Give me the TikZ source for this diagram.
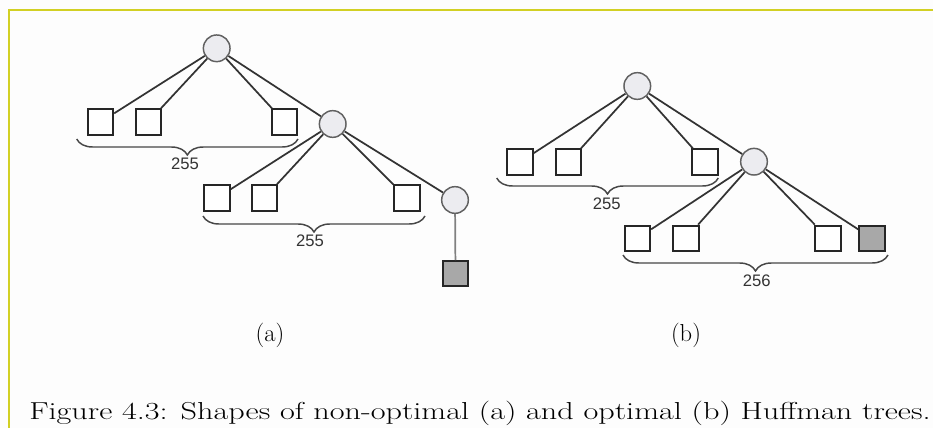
\documentclass[tikz,border=0pt]{standalone}
\usepackage{fontspec}
\newfontfamily\numfont{Liberation Sans}
\usetikzlibrary{decorations.pathreplacing}
\definecolor{frameyellow}{RGB}{210,208,36}
\definecolor{innerfill}{RGB}{236,236,240}
\definecolor{leafgrey}{RGB}{168,168,168}
\definecolor{pagebg}{RGB}{253,253,253}
\tikzset{
  inner/.style={circle, draw=black!62, fill=innerfill, line width=1.1pt,
                minimum size=20pt, inner sep=0pt},
  leaf/.style={rectangle, draw=black!85, fill=white, line width=1.5pt,
               minimum size=19pt, inner sep=0pt},
  grayleaf/.style={leaf, fill=leafgrey},
  edge/.style={draw=black!80, line width=1.3pt},
  thinedge/.style={draw=black!50, line width=1.3pt},
  bracket/.style={draw=black!72, line width=1.1pt,
                  decorate, decoration={brace, amplitude=12pt}},
  count/.style={font=\numfont\fontsize{12.5}{14}\selectfont, text=black!80, inner sep=0pt},
  sublabel/.style={font=\fontsize{18.4}{22}\selectfont, inner sep=0pt}
}
\begin{document}
\begin{tikzpicture}[x=0.75pt,y=-0.75pt]
  % page and frame
  \fill[pagebg] (0,0) rectangle (933,428);
  \useasboundingbox (0,0) rectangle (933,428);
  \draw[frameyellow, line width=1.6pt] (9,428) -- (9,10) -- (933,10);

  % ---------- tree (a) ----------
  \node[inner] (ra1) at (216.7,48.3) {};
  \node[leaf]  (la1) at (100.5,122) {};
  \node[leaf]  (la2) at (148.3,122) {};
  \node[leaf]  (la3) at (284.5,122) {};
  \node[inner] (ra2) at (332.7,124) {};
  \node[leaf]  (lb1) at (217,198) {};
  \node[leaf]  (lb2) at (264.3,198) {};
  \node[leaf]  (lb3) at (407,198) {};
  \node[inner] (ra3) at (455,200) {};
  \node[grayleaf] (ga) at (455.5,273.7) {};

  \foreach \c in {la1,la2,la3,ra2} \draw[edge] (ra1) -- (\c);
  \foreach \c in {lb1,lb2,lb3,ra3} \draw[edge] (ra2) -- (\c);
  \draw[thinedge] (ra3) -- (ga);

  \coordinate (A1r) at (298,139);
  \coordinate (A1l) at (76.7,139);
  \coordinate (A2r) at (425,216);
  \coordinate (A2l) at (203,216);
  \draw[bracket] (A1r) -- (A1l);
  \draw[bracket] (A2r) -- (A2l);
  \node[count] (na1) at (185,163.5) {255};
  \node[count] (na2) at (310,241) {255};

  % ---------- tree (b) ----------
  \node[inner] (rb1) at (637.3,86) {};
  \node[leaf]  (lc1) at (520,162) {};
  \node[leaf]  (lc2) at (568.7,162) {};
  \node[leaf]  (lc3) at (705,162) {};
  \node[inner] (rb2) at (754,161.7) {};
  \node[leaf]  (ld1) at (637.5,238.3) {};
  \node[leaf]  (ld2) at (686,238.3) {};
  \node[leaf]  (ld3) at (828,238.3) {};
  \node[grayleaf] (gb) at (872,238.3) {};

  \foreach \c in {lc1,lc2,lc3,rb2} \draw[edge] (rb1) -- (\c);
  \foreach \c in {ld1,ld2,ld3,gb} \draw[edge] (rb2) -- (\c);

  \coordinate (B1r) at (718.3,178);
  \coordinate (B1l) at (496.7,178);
  \coordinate (B2r) at (888,255);
  \coordinate (B2l) at (623,255);
  \draw[bracket] (B1r) -- (B1l);
  \draw[bracket] (B2r) -- (B2l);
  \node[count] (nb1) at (606.7,203.7) {255};
  \node[count] (nb2) at (756.7,280.5) {256};

  % ---------- labels and caption ----------
  \node[sublabel] (capa) at (270,335) {(a)};
  \node[sublabel] (capb) at (686,335) {(b)};
  \node[sublabel, anchor=base west] (fig) at (29,419)
    {\resizebox{676pt}{\height}{Figure 4.3: Shapes of non-optimal (a) and optimal (b) Huffman trees.}};
\end{tikzpicture}
\end{document}
